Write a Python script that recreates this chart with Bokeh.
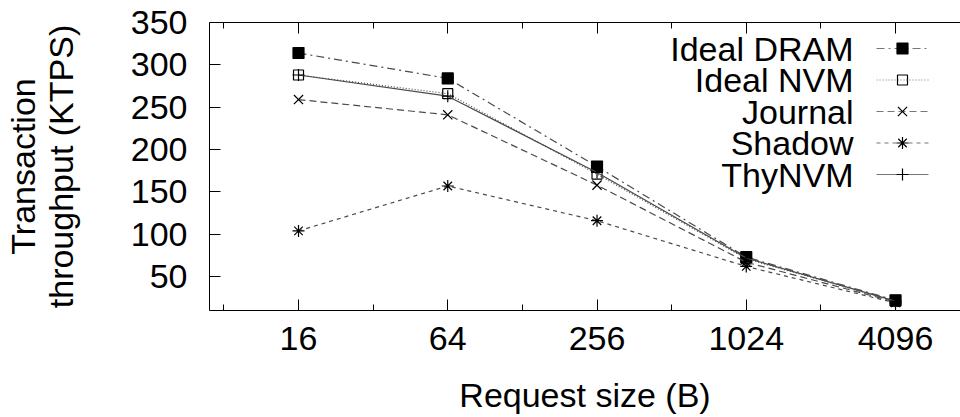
from bokeh.plotting import figure
from bokeh.models import Range1d, FixedTicker, LinearAxis, LogAxis, LinearScale
from bokeh.core.properties import value
from bokeh.embed import file_html
from bokeh.resources import INLINE

# ---- data ----
request_sizes = [16, 64, 256, 1024, 4096]
x_tick_labels = ["16", "64", "256", "1024", "4096"]
x_minor_ticks = [8, 32, 128, 512, 2048]
y_ticks = [50, 100, 150, 200, 250, 300, 350]

ideal_dram = [314, 284, 180, 73, 22]
ideal_nvm = [288, 266, 171, 71, 21]
journal = [259, 241, 158, 67, 20]
shadow = [104, 157, 116, 62, 19]
thynvm = [288, 263, 173, 72, 21]

series_names = ["Ideal DRAM", "Ideal NVM", "Journal", "Shadow", "ThyNVM"]
series_values = [ideal_dram, ideal_nvm, journal, shadow, thynvm]

FONT = "Liberation Sans"
FS = "34px"

W, H = 960, 417
BL, BR, BT, BB = 209, 0, 22, 107
FW, FH = W - BL - BR, H - BT - BB

p = figure(width=W, height=H, x_axis_type="log",
           x_range=Range1d(7, 7490), y_range=Range1d(10, 350),
           output_backend="svg", toolbar_location=None,
           min_border_left=BL, min_border_right=BR,
           min_border_top=BT, min_border_bottom=BB)
p.outline_line_color = None
p.xgrid.visible = False
p.ygrid.visible = False
p.background_fill_color = "white"
p.border_fill_color = "white"

# pixel-space ranges for the legend block (frame-relative, y up)
p.extra_x_ranges = {"px": Range1d(0, FW)}
p.extra_y_ranges = {"px": Range1d(0, FH)}
p.extra_x_scales = {"px": LinearScale()}
p.extra_y_scales = {"px": LinearScale()}

styles = [
    dict(dash="8 4 2 4", marker="square", size=11, fill="black"),
    dict(dash="1 2", marker="square", size=10, fill=None),
    dict(dash="7 4", marker="x", size=13, fill=None),
    dict(dash="4 4", marker="asterisk", size=12, fill=None),
    dict(dash="solid", marker="cross", size=12, fill=None),
]
LINE_COLOR = "#4a4a4a"

# legend layout (pixels inside frame)
leg_text_right = 644
leg_line_x0, leg_line_x1 = 667, 719
leg_top_y, leg_step = 262, 31.5

for i, (name, vals, st) in enumerate(zip(series_names, series_values, styles)):
    p.line(request_sizes, vals, line_color=LINE_COLOR, line_width=1.2,
           line_dash=st["dash"])
    p.scatter(request_sizes, vals, marker=st["marker"], size=st["size"],
              line_color="black", line_width=1.2, fill_color=st["fill"])
    ly = leg_top_y - i * leg_step
    p.line([leg_line_x0, leg_line_x1], [ly, ly], line_color="#777777",
           line_width=1.2, line_dash=st["dash"],
           x_range_name="px", y_range_name="px")
    p.scatter([(leg_line_x0 + leg_line_x1) / 2], [ly], marker=st["marker"],
              size=st["size"], line_color="black", line_width=1.2,
              fill_color=st["fill"], x_range_name="px", y_range_name="px")
    p.text([leg_text_right], [ly], text=[name], text_align="right",
           text_baseline="middle", text_font=value(FONT),
           text_font_size=FS, text_color="black",
           x_range_name="px", y_range_name="px")

# x axis (bottom)
xa = p.xaxis[0]
xa.ticker = FixedTicker(ticks=request_sizes, minor_ticks=x_minor_ticks)
xa.major_label_overrides = {v: t for v, t in zip(request_sizes, x_tick_labels)}
xa.axis_label = "Request size (B)"

# y axis (left)
ya = p.yaxis[0]
ya.ticker = FixedTicker(ticks=y_ticks)
ya.axis_label = "Transaction\nthroughput (KTPS)"
ya.axis_label_text_line_height = 1.0

for ax in (xa, ya):
    ax.axis_line_color = "black"
    ax.axis_line_width = 1
    ax.major_tick_in = 11
    ax.major_tick_out = 0
    ax.minor_tick_in = 6
    ax.minor_tick_out = 0
    ax.major_tick_line_color = "black"
    ax.minor_tick_line_color = "black"
    ax.major_label_text_font = FONT
    ax.major_label_text_font_size = FS
    ax.major_label_text_color = "black"
    ax.axis_label_text_font = FONT
    ax.axis_label_text_font_size = FS
    ax.axis_label_text_font_style = "normal"
    ax.axis_label_text_color = "black"

xa.major_label_standoff = 16
xa.axis_label_standoff = 23
ya.major_label_standoff = 22
ya.axis_label_standoff = 48

# top border with ticks (no labels)
top = LogAxis(ticker=FixedTicker(ticks=request_sizes, minor_ticks=x_minor_ticks),
              major_tick_in=11, major_tick_out=0, minor_tick_in=6, minor_tick_out=0,
              major_label_overrides={v: "" for v in request_sizes},
              major_label_standoff=0, axis_line_color="black",
              major_tick_line_color="black", minor_tick_line_color="black")
p.add_layout(top, "above")

open("out.html", "w").write(file_html(p, INLINE))
